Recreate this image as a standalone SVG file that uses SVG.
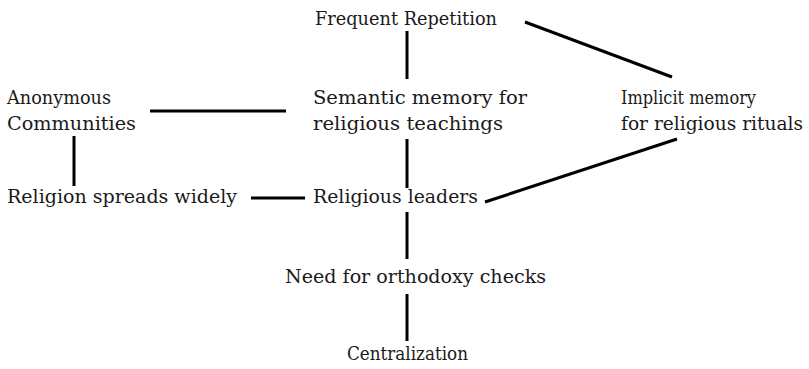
<svg xmlns="http://www.w3.org/2000/svg" width="809" height="369" viewBox="0 0 809 369">
<style>
.t{font-family:'DejaVu Serif','Liberation Serif',serif;font-size:18px;fill:#1a1a1a}
.c line{stroke:#000;stroke-width:3;stroke-linecap:butt}
</style>
<rect width="809" height="369" fill="#fff"/>
<g class="c" id="connectors">
<line x1="407" y1="31" x2="407" y2="79"/>
<line x1="525" y1="22" x2="672" y2="77"/>
<line x1="150" y1="111" x2="286" y2="111"/>
<line x1="74" y1="136" x2="74" y2="186"/>
<line x1="407" y1="139" x2="407" y2="188"/>
<line x1="251" y1="198" x2="305" y2="198"/>
<line x1="485" y1="202" x2="677" y2="139"/>
<line x1="407" y1="212" x2="407" y2="259"/>
<line x1="407" y1="294" x2="407" y2="341"/>
</g>
<g class="t">
<g id="frequent"><text x="315" y="25" textLength="182" lengthAdjust="spacingAndGlyphs">Frequent Repetition</text></g>
<g id="semantic"><text x="313" y="104" textLength="214" lengthAdjust="spacingAndGlyphs">Semantic memory for</text><text x="313" y="130" textLength="190" lengthAdjust="spacingAndGlyphs">religious teachings</text></g>
<g id="anonymous"><text x="7" y="104" textLength="104" lengthAdjust="spacingAndGlyphs">Anonymous</text><text x="7" y="130" textLength="129" lengthAdjust="spacingAndGlyphs">Communities</text></g>
<g id="implicit"><text x="621" y="104" textLength="135" lengthAdjust="spacingAndGlyphs">Implicit memory</text><text x="621" y="130" textLength="182" lengthAdjust="spacingAndGlyphs">for religious rituals</text></g>
<g id="spreads"><text x="7" y="203" textLength="230" lengthAdjust="spacingAndGlyphs">Religion spreads widely</text></g>
<g id="leaders"><text x="313" y="203" textLength="165" lengthAdjust="spacingAndGlyphs">Religious leaders</text></g>
<g id="orthodoxy"><text x="285" y="283" textLength="261" lengthAdjust="spacingAndGlyphs">Need for orthodoxy checks</text></g>
<g id="centralization"><text x="347" y="360" textLength="121" lengthAdjust="spacingAndGlyphs">Centralization</text></g>
</g>
</svg>
